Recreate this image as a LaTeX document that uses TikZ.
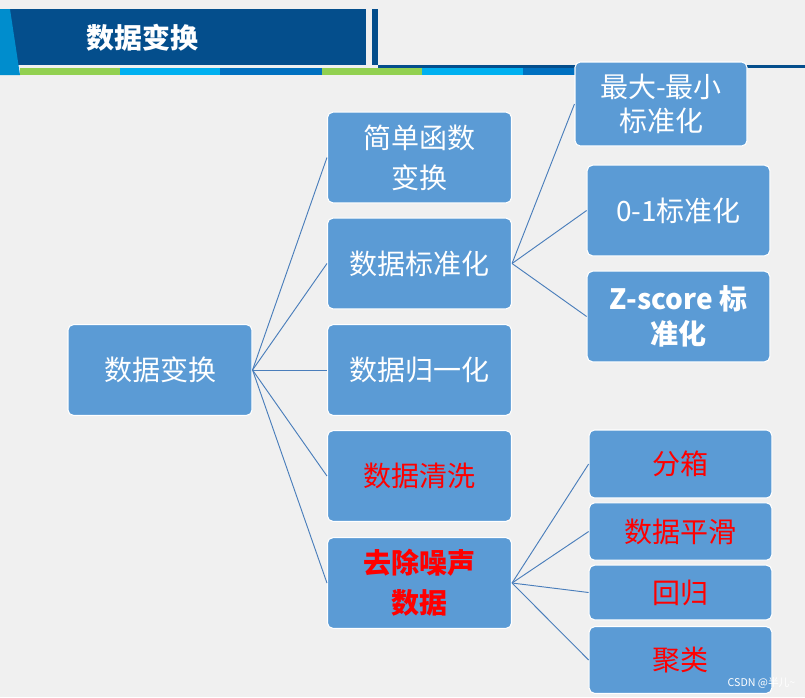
\documentclass[tikz,border=0pt]{standalone}
\usepackage{fontspec}
\setmainfont{Noto Sans CJK SC}
\definecolor{boxblue}{HTML}{5B9BD5}
\definecolor{linkblue}{HTML}{4A7EBB}
\definecolor{headblue}{HTML}{044E8C}
\definecolor{stripgreen}{HTML}{92D050}
\definecolor{stripcyan}{HTML}{00B0F0}
\definecolor{stripblue}{HTML}{0070C0}
\tikzset{
  box/.style={draw=white, fill=boxblue, rounded corners=4pt, line width=0.8pt,
    text=white, align=center, inner sep=0pt, font=\fontsize{21}{30}\selectfont},
  link/.style={draw=linkblue, line width=0.7pt},
}
\begin{document}
\begin{tikzpicture}[x=0.75pt,y=-0.75pt]
	\useasboundingbox (0,0) rectangle (805,697);
	\fill[gray!12] (0,0) rectangle (805,697);

	% header bar
	\fill[headblue] (5,9) rectangle (366,65);
	\fill[stripblue!80!cyan] (0,9) -- (10,9) -- (20,75) -- (0,75) -- cycle;
	\fill[headblue] (372,9) rectangle (378,65);
	\fill[headblue] (378,65) rectangle (805,68);
	\fill[stripgreen] (20,68) rectangle (120,75);
	\fill[stripcyan] (120,68) rectangle (220,75);
	\fill[stripblue] (220,68) rectangle (322,75);
	\fill[stripgreen] (322,68) rectangle (422,75);
	\fill[stripcyan] (422,68) rectangle (523,75);
	\fill[stripblue] (523,68) rectangle (575,75);
	\node[text=white, font=\fontsize{21}{24}\selectfont\bfseries, anchor=west] (title) at (82,38) {数据变换};

	% root and first level
	\node[box, minimum width=138pt, minimum height=68pt] (root) at (160,370) {数据变换};
	\node[box, minimum width=138pt, minimum height=68pt] (simple) at (419.5,157.5) {简单函数\\变换};
	\node[box, minimum width=138pt, minimum height=68pt] (std) at (419.5,263.5) {数据标准化};
	\node[box, minimum width=138pt, minimum height=68pt] (norm) at (419.5,370) {数据归一化};
	\node[box, minimum width=138pt, minimum height=68pt, text=red] (clean) at (419.5,476) {数据清洗};
	\node[box, minimum width=138pt, minimum height=68pt, text=red, font=\fontsize{21}{30}\selectfont\bfseries] (noise) at (419.5,583) {去除噪声\\数据};

	% standardisation methods
	\node[box, minimum width=129pt, minimum height=63pt, font=\fontsize{21}{26}\selectfont] (minmax) at (661,104) {最大-最小\\标准化};
	\node[box, minimum width=137pt, minimum height=68pt] (zeroone) at (678.5,210.5) {0-1标准化};
	\node[box, minimum width=137pt, minimum height=68pt, font=\fontsize{21}{26}\selectfont\bfseries] (zscore) at (678.5,316.5) {Z-score 标\\准化};

	% denoising methods
	\node[box, minimum width=137pt, minimum height=51pt, text=red] (bin) at (680.5,464) {分箱};
	\node[box, minimum width=137pt, minimum height=43pt, text=red] (smooth) at (680.5,531.5) {数据平滑};
	\node[box, minimum width=137pt, minimum height=41pt, text=red] (regr) at (680.5,592.5) {回归};
	\node[box, minimum width=137pt, minimum height=50pt, text=red] (clus) at (680.5,660) {聚类};

	% connectors
	\foreach \n in {simple,std,norm,clean,noise}
		\draw[link] (root.east) -- (\n.west);
	\foreach \n in {minmax,zeroone,zscore}
		\draw[link] (std.east) -- (\n.west);
	\foreach \n in {bin,smooth,regr,clus}
		\draw[link] (noise.east) -- (\n.west);

	\node[text=white, font=\fontsize{8}{9}\selectfont, anchor=south east] (mark) at (800,693) {CSDN @半儿\textasciitilde};
\end{tikzpicture}
\end{document}
